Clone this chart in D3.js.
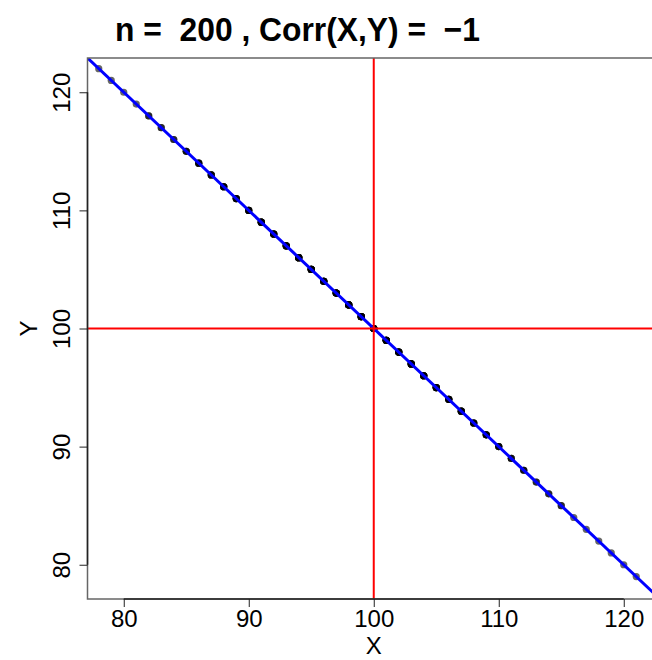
<!DOCTYPE html>
<html>
<head>
<meta charset="utf-8">
<script src="https://cdn.jsdelivr.net/npm/d3@7"></script>
<style>
  html, body { margin: 0; padding: 0; background: #fff; }
  svg { display: block; }
  text { font-family: "Liberation Sans", Arial, Helvetica, sans-serif; }
</style>
</head>
<body>
<script>
// ---- data ----
const titleText = "n =  200 , Corr(X,Y) =  \u22121";
const xLabel = "X";
const yLabel = "Y";
const xTicks = [80, 90, 100, 110, 120];
const yTicks = [80, 90, 100, 110, 120];
const xDomain = [77.1, 122.9];
const yDomain = [77.1, 122.9];
// integer X values observed, matching Y values (Y = 200 - X), and number of the 200 points on each
const xValues = [78,79,80,81,82,83,84,85,86,87,88,89,90,91,92,93,94,95,96,97,98,99,100,101,102,103,104,105,106,107,108,109,110,111,112,113,114,115,116,117,118,119,120,121];
const yValues = [122,121,120,119,118,117,116,115,114,113,112,111,110,109,108,107,106,105,104,103,102,101,100,99,98,97,96,95,94,93,92,91,90,89,88,87,86,85,84,83,82,81,80,79];
const counts  = [ 1, 1, 1, 1, 2, 2, 2, 3, 4, 4, 5, 5, 5, 6, 7, 7, 8, 8, 8, 9, 9,10, 10,  9,  8,  8,  7,  7,  6,  5,  5,  5,  4,  3,  3,  2,  2,  2,  1,  1,  1,  1,  1,  1];
const fitIntercept = 200, fitSlope = -1;
const meanX = 100, meanY = 100;

// ---- layout ----
const W = 652, H = 660;
const plot = { left: 87.5, right: 660, top: 58, bottom: 599 };

const svg = d3.select("body").append("svg").attr("width", W).attr("height", H);

const x = d3.scaleLinear().domain(xDomain).range([plot.left, plot.right]);
const y = d3.scaleLinear().domain(yDomain).range([plot.bottom, plot.top]);

svg.append("defs").append("clipPath").attr("id", "clip")
  .append("rect").attr("x", plot.left).attr("y", plot.top)
  .attr("width", plot.right - plot.left).attr("height", plot.bottom - plot.top);

// points (one circle per observation, semi-transparent)
const pts = [];
xValues.forEach((xv, i) => { for (let k = 0; k < counts[i]; k++) pts.push([xv, yValues[i]]); });
svg.append("g").attr("clip-path", "url(#clip)")
  .selectAll("circle").data(pts).join("circle")
  .attr("cx", d => x(d[0])).attr("cy", d => y(d[1])).attr("r", 3.6)
  .attr("fill", "#000").attr("fill-opacity", 0.6);

// regression line
const g = svg.append("g").attr("clip-path", "url(#clip)");
g.append("line")
  .attr("x1", x(xDomain[0] - 1)).attr("y1", y(fitIntercept + fitSlope * (xDomain[0] - 1)))
  .attr("x2", x(xDomain[1] + 1)).attr("y2", y(fitIntercept + fitSlope * (xDomain[1] + 1)))
  .attr("stroke", "#0000ff").attr("stroke-width", 3);

// mean lines
g.append("line").attr("x1", x(meanX)).attr("x2", x(meanX))
  .attr("y1", plot.top).attr("y2", plot.bottom)
  .attr("stroke", "#ff0000").attr("stroke-width", 2);
g.append("line").attr("x1", plot.left).attr("x2", plot.right)
  .attr("y1", y(meanY)).attr("y2", y(meanY))
  .attr("stroke", "#ff0000").attr("stroke-width", 2);

// box
svg.append("rect").attr("x", plot.left).attr("y", plot.top)
  .attr("width", plot.right - plot.left).attr("height", plot.bottom - plot.top)
  .attr("fill", "none").attr("stroke", "#666").attr("stroke-width", 1.5);

// axes
const xAxis = d3.axisBottom(x).tickValues(xTicks).tickSize(8).tickPadding(3).tickFormat(d3.format("d"));
const xg = svg.append("g").attr("transform", `translate(0,${plot.bottom})`).call(xAxis);
xg.select(".domain").attr("d", `M${x(xTicks[0])},0H${x(xTicks[xTicks.length-1])}`).attr("stroke", "#222").attr("stroke-width", 1.5);
xg.selectAll(".tick line").attr("stroke", "#222").attr("stroke-width", 1);
xg.selectAll(".tick text").attr("font-size", 24).attr("fill", "#000")
  .attr("font-family", "Liberation Sans, Arial, sans-serif").attr("dy", null).attr("y", 28);

const yAxis = d3.axisLeft(y).tickValues(yTicks).tickSize(8).tickFormat(d3.format("d"));
const yg = svg.append("g").attr("transform", `translate(${plot.left},0)`).call(yAxis);
yg.select(".domain").attr("d", `M0,${y(yTicks[0])}V${y(yTicks[yTicks.length-1])}`).attr("stroke", "#222").attr("stroke-width", 1.5);
yg.selectAll(".tick line").attr("stroke", "#222").attr("stroke-width", 1);
yg.selectAll(".tick text").attr("font-size", 24).attr("fill", "#000")
  .attr("font-family", "Liberation Sans, Arial, sans-serif")
  .attr("x", null).attr("dy", null)
  .attr("text-anchor", "middle")
  .attr("transform", "translate(-17.5,0) rotate(-90)");

// labels
svg.append("text").attr("x", (plot.left + plot.right) / 2).attr("y", 654)
  .attr("text-anchor", "middle").attr("font-size", 24).text(xLabel);
svg.append("text").attr("transform", `translate(37,${(plot.top + plot.bottom) / 2}) rotate(-90)`)
  .attr("text-anchor", "middle").attr("font-size", 24).text(yLabel);

// title
svg.append("text").attr("x", 115).attr("y", 41)
  .style("white-space", "pre").attr("xml:space", "preserve")
  .attr("font-size", 34).attr("font-weight", "bold")
  .attr("textLength", 365).attr("lengthAdjust", "spacingAndGlyphs")
  .text(titleText);
</script>
</body>
</html>
